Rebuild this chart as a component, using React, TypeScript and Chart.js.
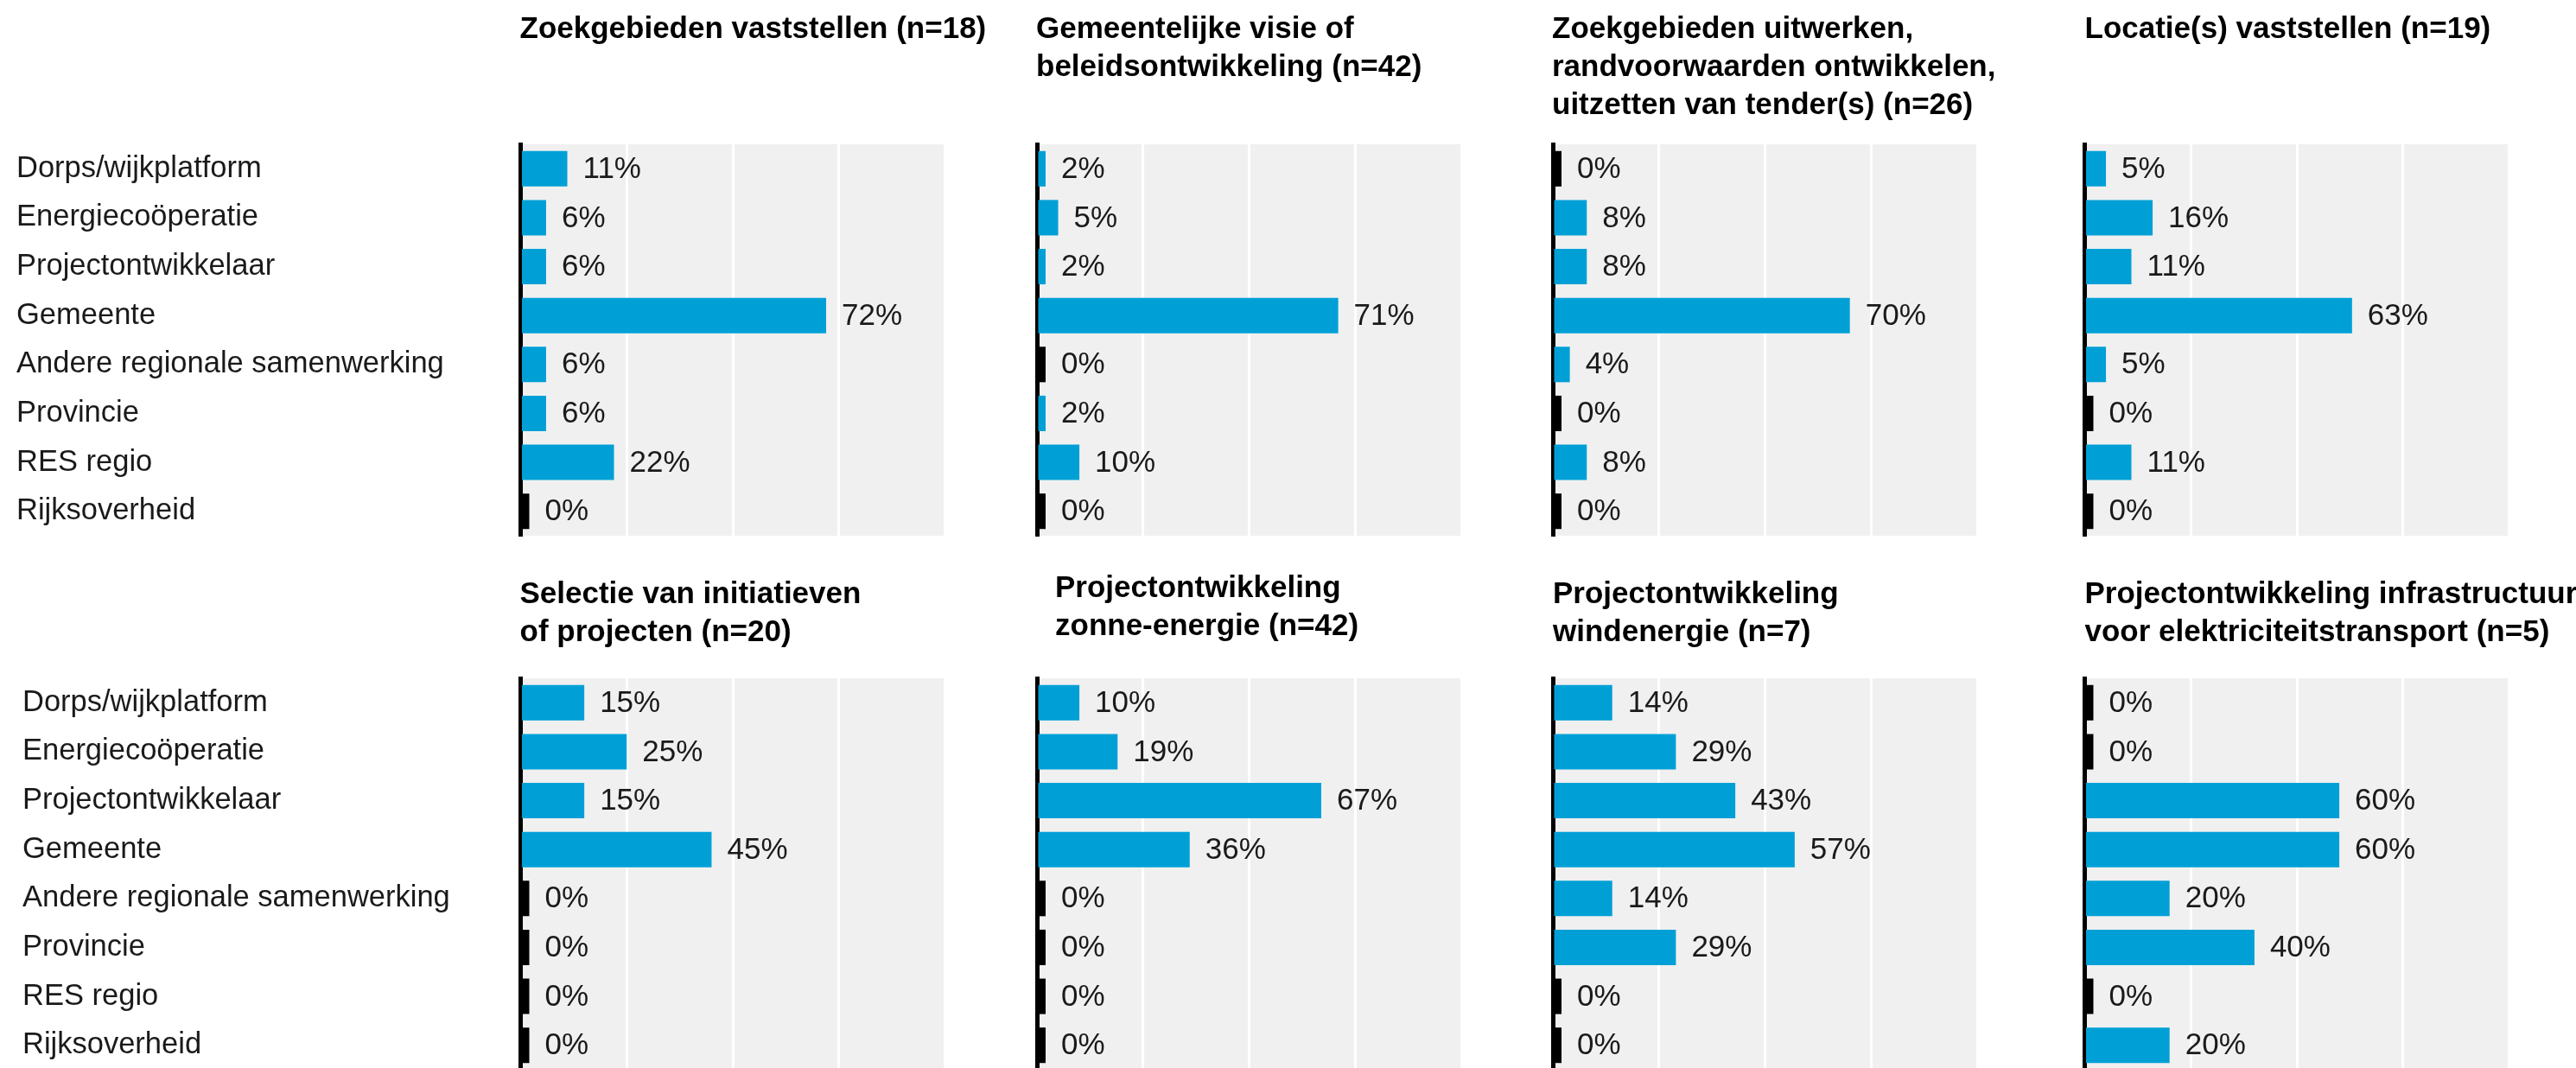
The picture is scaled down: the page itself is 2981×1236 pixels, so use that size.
import React, { useEffect, useRef } from 'react';
import { Chart, registerables } from 'chart.js';

Chart.register(...registerables);

// ---------- data ----------
const categories = [
  'Dorps/wijkplatform',
  'Energiecoöperatie',
  'Projectontwikkelaar',
  'Gemeente',
  'Andere regionale samenwerking',
  'Provincie',
  'RES regio',
  'Rijksoverheid',
];

const title1 = ['Zoekgebieden vaststellen (n=18)'];
const title2 = ['Gemeentelijke visie of', 'beleidsontwikkeling (n=42)'];
const title3 = ['Zoekgebieden uitwerken,', 'randvoorwaarden ontwikkelen,', 'uitzetten van tender(s) (n=26)'];
const title4 = ['Locatie(s) vaststellen (n=19)'];
const title5 = ['Selectie van initiatieven', 'of projecten (n=20)'];
const title6 = ['Projectontwikkeling', 'zonne-energie (n=42)'];
const title7 = ['Projectontwikkeling', 'windenergie (n=7)'];
const title8 = ['Projectontwikkeling infrastructuur', 'voor elektriciteitstransport (n=5)'];

const values1 = [11, 6, 6, 72, 6, 6, 22, 0];
const values2 = [2, 5, 2, 71, 0, 2, 10, 0];
const values3 = [0, 8, 8, 70, 4, 0, 8, 0];
const values4 = [5, 16, 11, 63, 5, 0, 11, 0];
const values5 = [15, 25, 15, 45, 0, 0, 0, 0];
const values6 = [10, 19, 67, 36, 0, 0, 0, 0];
const values7 = [14, 29, 43, 57, 14, 29, 0, 0];
const values8 = [0, 0, 60, 60, 20, 40, 0, 20];

const axisMin = 0;
const axisMax = 100;
const gridStep = 25;

const panelTitles = [title1, title2, title3, title4, title5, title6, title7, title8];
const panelValues = [values1, values2, values3, values4, values5, values6, values7, values8];

// ---------- layout / style ----------
const FONT = "'Liberation Sans', Arial, Helvetica, sans-serif";
const BAR_COLOR = '#00a0d6';
const ZERO_COLOR = '#000000';
const TEXT_COLOR = '#1a1a1a';
const PANEL_BG = '#f0f0f0';

const axisX = [602.5, 1200, 1797, 2412.5];
const colRight = [1150, 1760, 2370, 2981];
const plotW = 491;
const rows = [
  { top: 0, height: 625, padTop: 167, padBottom: 5, labelLeft: 19, titleY: [34, 78, 122] },
  { top: 640, height: 600, padTop: 145, padBottom: 2, labelLeft: 26, titleY: [48, 92] },
];
// per-panel title offsets (dx, dy)
const titleOffsets = [
  [-1, 0], [-1, 0], [-1, 0], [0, 0],
  [-1, 0], [21, -7], [0, 0], [0, 0],
];

const bgPlugin = {
  id: 'panelBg',
  beforeDraw(chart: any) {
    const { ctx, chartArea } = chart;
    ctx.save();
    ctx.fillStyle = PANEL_BG;
    ctx.fillRect(chartArea.left, chartArea.top, chartArea.right - chartArea.left, chartArea.bottom - chartArea.top);
    ctx.restore();
  },
};

const valueLabelPlugin = {
  id: 'valueLabels',
  afterDatasetsDraw(chart: any) {
    const { ctx } = chart;
    const meta = chart.getDatasetMeta(0);
    const data = chart.data.datasets[0].data as number[];
    ctx.save();
    ctx.font = `35px ${FONT}`;
    ctx.fillStyle = TEXT_COLOR;
    ctx.textBaseline = 'middle';
    ctx.textAlign = 'left';
    meta.data.forEach((bar: any, i: number) => {
      ctx.fillText(`${data[i]}%`, bar.x + 18, bar.y + 1);
    });
    ctx.restore();
  },
};

function makeTitlePlugin(lines: string[], ys: number[], dx: number, dy: number) {
  return {
    id: 'panelTitle',
    afterDraw(chart: any) {
      const { ctx, chartArea } = chart;
      ctx.save();
      ctx.font = `bold 35px ${FONT}`;
      ctx.fillStyle = '#000000';
      ctx.textBaseline = 'middle';
      ctx.textAlign = 'left';
      lines.forEach((line, i) => {
        ctx.fillText(line, chartArea.left + dx, ys[i] + dy);
      });
      ctx.restore();
    },
  };
}

function Panel({ index }: { index: number }) {
  const ref = useRef<HTMLCanvasElement>(null);
  const col = index % 4;
  const rowIdx = Math.floor(index / 4);
  const row = rows[rowIdx];
  const padLeft = col === 0 ? row.labelLeft : 20;
  const canvasLeft = col === 0 ? 0 : Math.floor(axisX[col]) - padLeft;
  const canvasWidth = colRight[col] - canvasLeft;
  const chartRight = axisX[col] + plotW;
  const padRight = colRight[col] - chartRight;
  const yWidth = col === 0 ? axisX[col] - padLeft : axisX[col] - Math.floor(axisX[col]);

  useEffect(() => {
    if (!ref.current) return;
    const values = panelValues[index];
    const [dx, dy] = titleOffsets[index];
    const chart = new Chart(ref.current, {
      type: 'bar',
      data: {
        labels: categories,
        datasets: [
          {
            data: values,
            backgroundColor: values.map((v) => (v === 0 ? ZERO_COLOR : BAR_COLOR)),
            borderWidth: 0,
            minBarLength: 10,
            categoryPercentage: 1,
            barPercentage: 0.725,
          },
        ],
      },
      options: {
        indexAxis: 'y',
        animation: false,
        responsive: false,
        devicePixelRatio: 1,
        events: [],
        layout: {
          padding: { left: padLeft, right: padRight, top: row.padTop, bottom: row.padBottom },
        },
        plugins: {
          legend: { display: false },
          tooltip: { enabled: false },
          title: { display: false },
        },
        scales: {
          x: {
            type: 'linear',
            min: axisMin,
            max: axisMax,
            ticks: { display: false, stepSize: gridStep },
            grid: { color: '#ffffff', lineWidth: 3, drawTicks: false },
            border: { display: false },
            afterFit: (s: any) => {
              s.height = 0;
              s.paddingLeft = 0;
              s.paddingRight = 0;
            },
          },
          y: {
            type: 'category',
            z: 1,
            grid: { display: false, drawTicks: false },
            border: { display: true, color: '#000000', width: 5 },
            ticks: {
              display: col === 0,
              autoSkip: false,
              crossAlign: 'far',
              padding: 0,
              color: TEXT_COLOR,
              font: { family: FONT, size: 34.5 },
            },
            afterFit: (s: any) => {
              s.width = yWidth;
              s.paddingTop = 0;
              s.paddingBottom = 0;
            },
          },
        },
      } as any,
      plugins: [bgPlugin, valueLabelPlugin, makeTitlePlugin(panelTitles[index], row.titleY, dx, dy)],
    });
    return () => chart.destroy();
  }, [index]);

  return (
    <canvas
      ref={ref}
      width={canvasWidth}
      height={row.height}
      style={{
        position: 'absolute',
        left: canvasLeft,
        top: row.top,
        width: canvasWidth,
        height: row.height,
      }}
    />
  );
}

export default function App() {
  return (
    <div
      style={{
        position: 'fixed',
        left: 0,
        top: 0,
        width: 2981,
        height: 1236,
        overflow: 'hidden',
        background: '#ffffff',
      }}
    >
      {panelValues.map((_, i) => (
        <Panel key={i} index={i} />
      ))}
    </div>
  );
}
